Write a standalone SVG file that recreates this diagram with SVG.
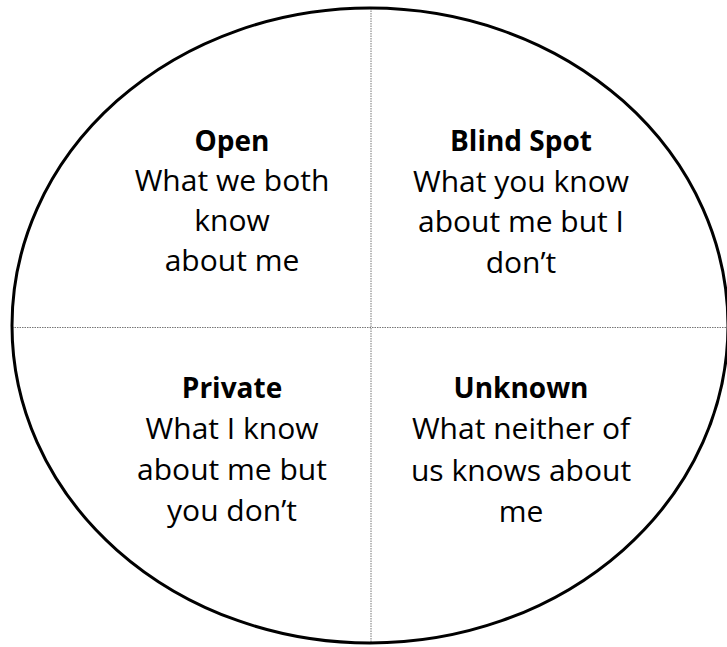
<svg xmlns="http://www.w3.org/2000/svg" width="727" height="647" viewBox="0 0 727 647">
<style>
.t{font-family:"Open Sans","Noto Sans",sans-serif;font-size:30px;fill:#000;text-anchor:middle}
.b{font-weight:bold;font-size:28px}
.div{stroke:#777;stroke-width:1;stroke-dasharray:1.5 1;fill:none}
</style>
<rect width="727" height="647" fill="#fff"/>
<g id="connectors">
<line class="div" x1="371" y1="8" x2="371" y2="643"/>
<line class="div" x1="12" y1="327.5" x2="727" y2="327.5"/>
</g>
<g id="circle">
<ellipse cx="370" cy="325.5" rx="358" ry="317.5" fill="none" stroke="#000" stroke-width="3"/>
</g>
<g id="open">
<text class="t b" x="232" y="151">Open</text>
<text class="t" x="232" y="191">What we both</text>
<text class="t" x="232" y="231">know</text>
<text class="t" x="232" y="271">about me</text>
</g>
<g id="blind">
<text class="t b" x="521" y="151">Blind Spot</text>
<text class="t" x="521" y="192">What you know</text>
<text class="t" x="521" y="232">about me but I</text>
<text class="t" x="521" y="273">don’t</text>
</g>
<g id="private">
<text class="t b" x="232" y="398">Private</text>
<text class="t" x="232" y="438.5">What I know</text>
<text class="t" x="232" y="480">about me but</text>
<text class="t" x="232" y="520.5">you don’t</text>
</g>
<g id="unknown">
<text class="t b" x="521" y="398">Unknown</text>
<text class="t" x="521" y="439">What neither of</text>
<text class="t" x="521" y="480.5">us knows about</text>
<text class="t" x="521" y="522">me</text>
</g>
</svg>
